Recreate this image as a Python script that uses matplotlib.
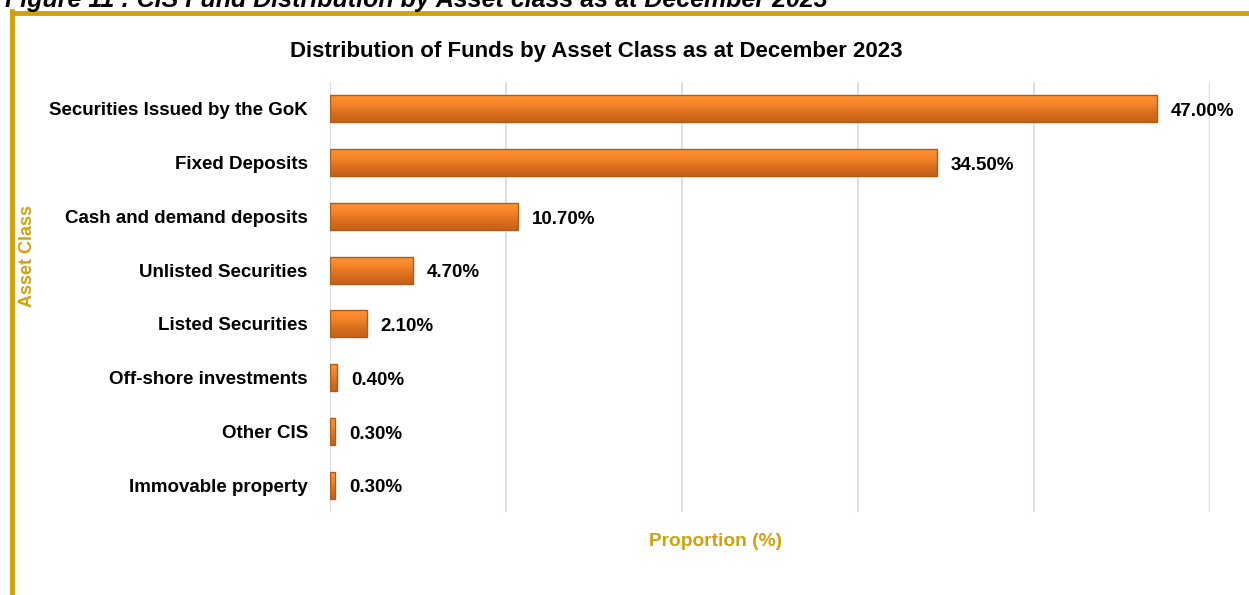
import numpy as np
import matplotlib
matplotlib.use("Agg")
import matplotlib.pyplot as plt
from matplotlib.lines import Line2D

categories = ["Securities Issued by the GoK", "Fixed Deposits", "Cash and demand deposits",
              "Unlisted Securities", "Listed Securities", "Off-shore investments",
              "Other CIS", "Immovable property"]
values = [47.0, 34.5, 10.7, 4.7, 2.1, 0.4, 0.3, 0.3]
labels = ["47.00%", "34.50%", "10.70%", "4.70%", "2.10%", "0.40%", "0.30%", "0.30%"]

plt.rcParams['font.family'] = ['Liberation Sans', 'DejaVu Sans']
gold = '#D4A00A'

fig = plt.figure(figsize=(12.49, 5.95), dpi=100)
W, H = 1249, 595
ax = fig.add_axes([330 / W, 1 - 512 / H, 880 / W, 430 / H])

y = np.arange(len(categories))
bh = 0.5
bars = ax.barh(y, values, height=bh, color='none', edgecolor='#B05C18', linewidth=1.0, zorder=4)

# vertical gradient inside each bar
grad = np.linspace(0, 1, 64).reshape(-1, 1)
cmap = matplotlib.colors.LinearSegmentedColormap.from_list(
    'og', ['#FF9232', '#F5842A', '#D96E1E', '#C4621A'])
for yi, v in zip(y, values):
    ax.imshow(grad, extent=(0, v, yi + bh / 2, yi - bh / 2), aspect='auto',
              cmap=cmap, zorder=3.5, interpolation='bicubic')

for yi, v, t in zip(y, values, labels):
    ax.annotate(t, (v, yi), xytext=(10, -2), textcoords='offset points',
                ha='left', va='center', fontsize=13.5, fontweight='bold', color='black')

ax.set_xlim(0, 50)
ax.set_ylim(len(categories) - 0.5, -0.5)
ax.set_xticks(np.arange(0, 51, 10))
ax.set_xticklabels([])
ax.set_yticks(y)
ax.set_yticklabels(categories, fontsize=13.5, fontweight='bold')
ax.tick_params(axis='both', length=0)
ax.tick_params(axis='y', pad=16)
ax.grid(axis='x', color='#D6E0EE', linewidth=1.5, zorder=0)
for s in ax.spines.values():
    s.set_visible(False)

fig.text(596 / W, 1 - 52 / H, "Distribution of Funds by Asset Class as at December 2023",
         ha='center', va='center', fontsize=16, fontweight='bold')
fig.text(716 / W, 1 - 541 / H, "Proportion (%)", ha='center', va='center',
         fontsize=13.8, fontweight='bold', color=gold)
fig.text(28 / W, 1 - 256 / H, "Asset Class", ha='center', va='center', rotation=90,
         fontsize=13, fontweight='bold', color=gold)

# caption partly cut at the top edge, as in the source page
fig.text(5 / W, 1 - 7 / H, "Figure 11 : CIS Fund Distribution by Asset class as at December 2023",
         ha='left', va='baseline', fontsize=18, fontweight='bold', fontstyle='italic')
fig.add_artist(Line2D([12 / W, 1], [1 - 12.5 / H, 1 - 12.5 / H], color=gold, linewidth=3.5))
fig.add_artist(Line2D([12 / W, 12 / W], [0, 1 - 11 / H], color=gold, linewidth=3.5))

fig.savefig("out.png", dpi=100)
